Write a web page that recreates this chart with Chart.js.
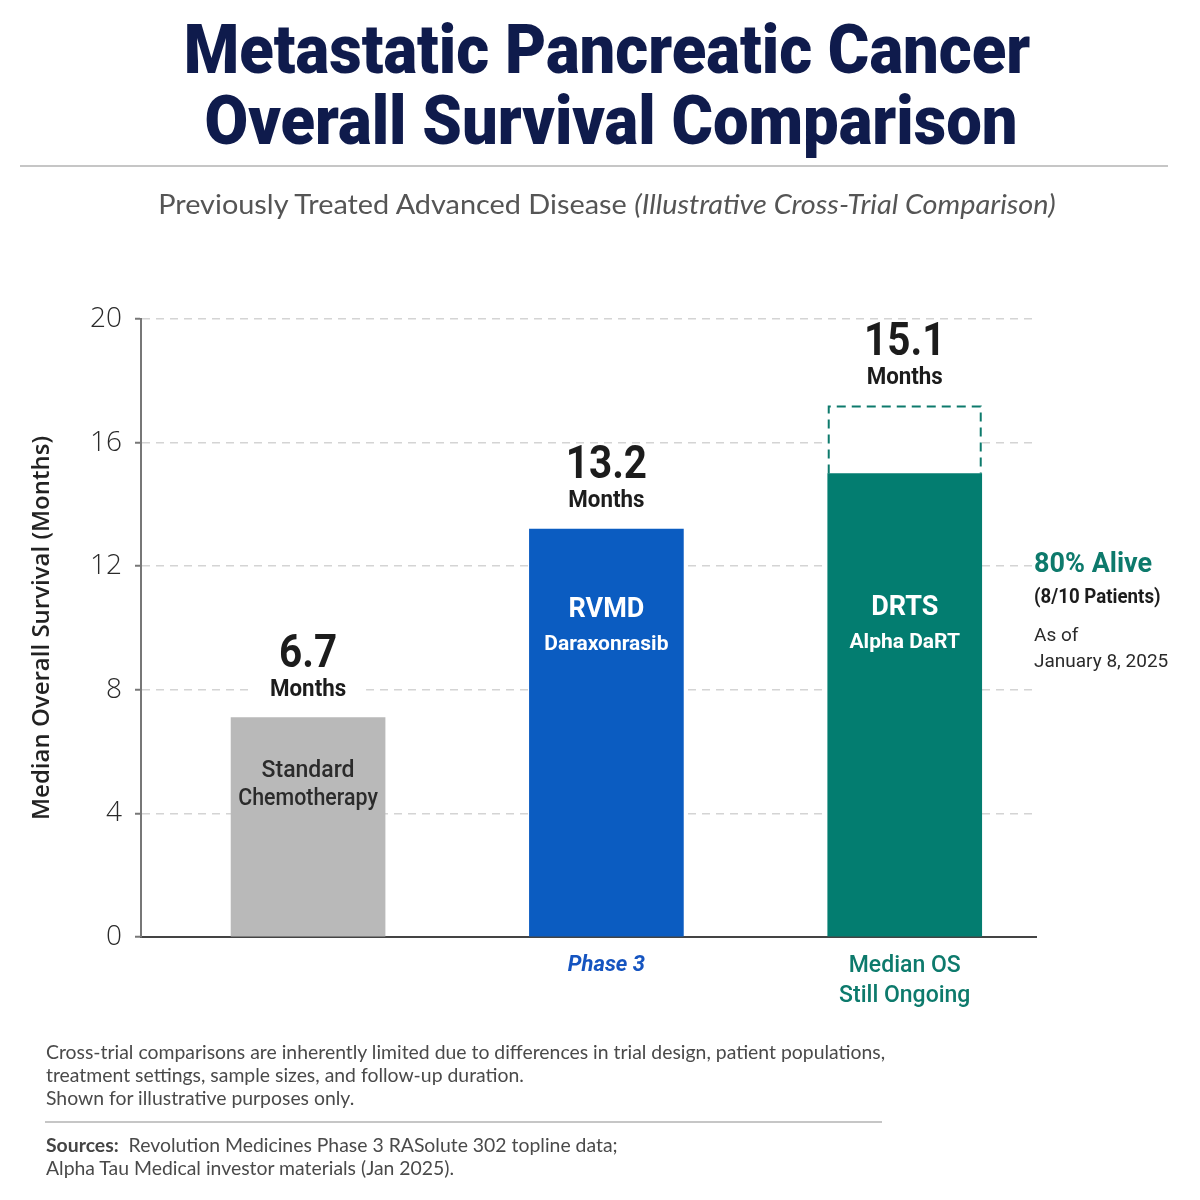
<!DOCTYPE html>
<html>
<head>
<meta charset="utf-8">
<title>Metastatic Pancreatic Cancer Overall Survival Comparison</title>
<script src="https://cdn.jsdelivr.net/npm/chart.js@4.4.1/dist/chart.umd.min.js"></script>
<style>
    html, body { margin: 0; padding: 0; background: #ffffff; }
    #page { position: relative; width: 1200px; height: 1200px; overflow: hidden; }
    #os-chart { position: absolute; left: 0; top: 0; }
    .fit { position: absolute; white-space: nowrap; transform: translateX(-50%); }
    .title { font: 900 68px Roboto, sans-serif; line-height: 71px; color: #0f1b4c; }
    .subtitle { font: 400 27px Lato, sans-serif; line-height: 27px; color: #555555; }
    .rule { position: absolute; height: 2px; background: #c6c6c6; }
    .note { position: absolute; left: 46px; font: 400 19.4px Lato, sans-serif; line-height: 23px; color: #4a4a4a; white-space: nowrap; }
    .note b { font-weight: 700; color: #444444; }
</style>
</head>
<body>
<div id="page">
    <canvas id="os-chart" width="1200" height="1200"></canvas>

    <div class="fit title" style="left:607px; top:15px;" data-w="847">Metastatic Pancreatic Cancer</div>
    <div class="fit title" style="left:611px; top:86px;" data-w="813">Overall Survival Comparison</div>
    <div class="rule" style="left:20px; top:165px; width:1148px;"></div>
    <div class="fit subtitle" style="left:607px; top:190px;" data-w="898">Previously Treated Advanced Disease <i>(Illustrative Cross-Trial Comparison)</i></div>

    <div class="note" style="top:1040px;">
        Cross-trial comparisons are inherently limited due to differences in trial design, patient populations,<br>
        treatment settings, sample sizes, and follow-up duration.<br>
        Shown for illustrative purposes only.
    </div>
    <div class="rule" style="left:45px; top:1121px; width:837px;"></div>
    <div class="note" style="top:1133px;">
        <b>Sources:</b>&nbsp; Revolution Medicines Phase 3 RASolute 302 topline data;<br>
        Alpha Tau Medical investor materials (Jan 2025).
    </div>
</div>

<script>
"use strict";

/* data */
var categories = ['Standard Chemotherapy', 'RVMD Daraxonrasib', 'DRTS Alpha DaRT'];
var medianOS = [7.1, 13.2, 15.0];          // bar heights, months
var ongoingOS = [null, null, 2.2];         // dashed "still ongoing" extension
var medianLabels = ['6.7', '13.2', '15.1'];
var barTitles = ['Standard', 'RVMD', 'DRTS'];
var barSubtitles = ['Chemotherapy', 'Daraxonrasib', 'Alpha DaRT'];
var xNotes = ['', 'Phase 3', ['Median OS', 'Still Ongoing']];
var aliveNote = ['80% Alive', '(8/10 Patients)', 'As of', 'January 8, 2025'];
var yTicks = [0, 4, 8, 12, 16, 20];

var barColors = ['#b9b9b9', '#0b5cc1', '#037d70'];
var teal = '#0d7a6c';
var blueText = '#1554c0';

/* fit the html headings to the reference widths */
document.querySelectorAll('.fit').forEach(function (el) {
    var s = parseFloat(el.dataset.w) / el.offsetWidth;
    el.style.transform = 'translateX(-50%) scaleX(' + s + ')';
});

function drawText(ctx, text, x, y, font, color, sx, align) {
    ctx.save();
    ctx.font = font;
    ctx.fillStyle = color;
    ctx.textAlign = align || 'center';
    ctx.textBaseline = 'alphabetic';
    ctx.translate(x, y);
    ctx.scale(sx || 1, 1);
    ctx.fillText(text, 0, 0);
    ctx.restore();
}

/* value labels, inner bar labels, dashed box and side note */
var osLabels = {
    id: 'osLabels',
    afterDatasetsDraw: function (chart) {
        var ctx = chart.ctx;
        var bars = chart.getDatasetMeta(0).data;
        var ext = chart.getDatasetMeta(1).data;
        var innerOffset = [59, 88, 141];
        var innerGap = [28, 33, 33];

        bars.forEach(function (bar, i) {
            var top = bar.y;
            if (ongoingOS[i] != null) {
                var e = ext[i];
                top = e.y;
                var l = e.x - e.width / 2 + 1, r = e.x + e.width / 2 - 1;
                ctx.save();
                ctx.setLineDash([9, 6]);
                ctx.lineWidth = 2;
                ctx.strokeStyle = teal;
                ctx.beginPath();
                ctx.moveTo(l, e.base);
                ctx.lineTo(l, e.y + 1);
                ctx.lineTo(r, e.y + 1);
                ctx.lineTo(r, e.base);
                ctx.stroke();
                ctx.restore();
            }

            ctx.fillStyle = '#ffffff';
            ctx.fillRect(bar.x - 58, top - 84, 116, 72);
            drawText(ctx, medianLabels[i], bar.x, top - 51, '700 47px Roboto', '#1c1c1c', 0.86);
            drawText(ctx, 'Months', bar.x, top - 22, '700 24px Roboto', '#1c1c1c', 0.93);

            var yIn = bar.y + innerOffset[i];
            if (i === 0) {
                drawText(ctx, barTitles[i], bar.x, yIn, '500 23px Roboto', '#2b2b2b', 1);
                drawText(ctx, barSubtitles[i], bar.x, yIn + innerGap[i], '500 23px Roboto', '#2b2b2b', 0.93);
            } else {
                drawText(ctx, barTitles[i], bar.x, yIn, '700 27px Roboto', '#ffffff', 1);
                drawText(ctx, barSubtitles[i], bar.x, yIn + innerGap[i], '700 21px Roboto', '#ffffff', 1);
            }
        });

        var ax = chart.chartArea.right - 2, at = chart.chartArea.top;
        drawText(ctx, aliveNote[0], ax, at + 253, '700 27px Roboto', teal, 1.0, 'left');
        drawText(ctx, aliveNote[1], ax, at + 284, '700 21px Roboto', '#1c1c1c', 0.89, 'left');
        drawText(ctx, aliveNote[2], ax, at + 322, '400 19px Roboto', '#2a2a2a', 1, 'left');
        drawText(ctx, aliveNote[3], ax, at + 348, '400 19px Roboto', '#2a2a2a', 1, 'left');
    }
};

var ctxOS = document.getElementById('os-chart').getContext('2d');

var osConfig = {
    type: 'bar',
    data: {
        labels: categories,
        datasets: [{
            label: 'Median overall survival',
            data: categories.map(function (c, i) { return { x: i, y: medianOS[i] }; }),
            backgroundColor: barColors,
            barThickness: 154,
            borderWidth: 0,
        },
        {
            label: 'Still ongoing',
            data: categories.map(function (c, i) { return { x: i, y: ongoingOS[i] }; }),
            backgroundColor: '#ffffff',
            barThickness: 154,
            borderWidth: 0,
        }]
    },
    options: {
        responsive: false,
        animation: false,
        devicePixelRatio: 1,
        layout: {
            padding: { left: 20, top: 319, right: 164, bottom: 183 }
        },
        plugins: {
            legend: { display: false },
            tooltip: { enabled: false },
        },
        scales: {
            x: {
                type: 'linear',
                offset: false,
                stacked: true,
                min: -0.56,
                max: 2.44,
                afterBuildTicks: function (scale) {
                    scale.ticks = categories.map(function (c, i) { return { value: i }; });
                },
                grid: { display: false, drawTicks: false, offset: false },
                border: { display: true, color: '#444444', width: 2 },
                ticks: {
                    padding: 14,
                    color: function (c) { return c.index === 1 ? blueText : teal; },
                    font: function (c) {
                        return c.index === 1
                            ? { family: 'Roboto', size: 22, weight: '700', style: 'italic', lineHeight: 1.3 }
                            : { family: 'Roboto', size: 23, weight: '500', lineHeight: 1.3 };
                    },
                    callback: function (value) { return xNotes[value]; }
                },
                afterFit: function (scale) { scale.height = 80; }
            },
            y: {
                stacked: true,
                min: 0,
                max: 20,
                afterBuildTicks: function (scale) {
                    scale.ticks = yTicks.map(function (v) { return { value: v }; });
                },
                grid: {
                    color: '#d4d4d4',
                    lineWidth: 1.5,
                    tickLength: 6,
                    tickColor: '#777777',
                    tickWidth: 2,
                },
                border: { display: true, color: '#777777', width: 2, dash: [8, 6] },
                ticks: {
                    padding: 13,
                    color: '#2a2a2a',
                    font: { family: 'Open Sans', size: 28, weight: '300' },
                },
                title: {
                    display: true,
                    text: 'Median Overall Survival (Months)',
                    color: '#222222',
                    font: { family: 'Open Sans', size: 24, weight: '600' },
                    padding: { top: 8, bottom: 0 },
                },
                afterFit: function (scale) { scale.width = 121; }
            }
        }
    },
    plugins: [osLabels]
};

var osChart = new Chart(ctxOS, osConfig);
</script>
</body>
</html>
